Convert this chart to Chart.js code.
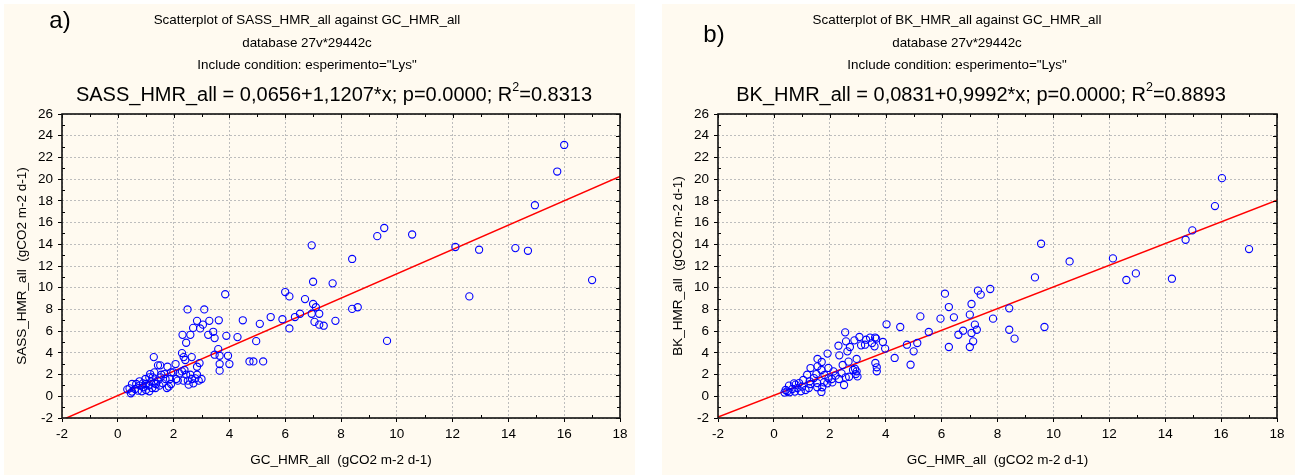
<!DOCTYPE html>
<html><head><meta charset="utf-8">
<script src="https://cdn.jsdelivr.net/npm/chart.js@4.4.1/dist/chart.umd.min.js"></script>
<style>
html,body{margin:0;padding:0;background:#fff;width:1295px;height:475px;overflow:hidden;}
.panel{position:absolute;background:#FFFAF0;}
#pa{left:4px;top:4px;width:631px;height:471px;}
#pb{left:662px;top:4px;width:633px;height:471px;}
canvas{display:block;}
</style></head><body>
<div class="panel" id="pa"><canvas id="ca" width="631" height="471"></canvas></div>
<div class="panel" id="pb"><canvas id="cb" width="633" height="471"></canvas></div>
<script>
// ---- data ----
const gcA = [3.85,2.5,3.1,2.84,3.28,3.62,4.48,5.48,5.09,2.7,2.95,3.05,2.32,2.6,3.24,3.42,3.47,3.89,4.29,4.96,2.45,3.6,3.47,3.65,3.95,2.3,2.36,2.42,2.65,2.93,2.84,3.65,4.0,3.65,4.72,4.86,5.21,1.29,1.44,1.52,1.78,2.07,
 0.42,0.51,0.51,0.62,0.72,0.78,0.78,0.86,0.92,0.99,1.01,1.01,1.10,1.13,1.16,1.19,1.23,1.25,1.31,1.31,1.35,1.43,1.49,1.53,1.61,1.67,1.71,1.76,1.83,1.87,1.91,1.99,2.09,2.15,2.21,2.3,2.35,2.39,2.45,2.51,2.54,2.6,2.66,2.71,2.78,2.84,2.9,3.0,1.56,1.37,0.66,1.13,0.9,1.91,0.34,0.47,
 5.9,6.0,6.15,6.15,6.35,6.53,6.71,6.95,7.0,7.0,6.95,7.05,7.1,7.22,7.22,7.38,7.7,7.8,8.4,8.4,8.6,9.3,9.55,9.65,10.55,12.1,12.6,12.95,14.25,14.7,14.95,15.75,16.0,17.0];
const sassHmrAll = [9.4,8.0,8.0,6.95,6.95,7.0,7.0,7.3,6.67,6.3,6.25,6.6,5.66,5.66,5.66,5.94,5.36,5.57,5.45,5.08,4.93,4.34,3.83,3.73,3.73,3.98,3.61,3.34,3.61,3.06,2.72,2.97,2.97,2.36,3.21,3.21,3.21,3.61,2.85,2.85,2.72,2.97,
 0.73,1.13,0.43,0.67,0.52,1.38,0.98,0.46,0.83,1.59,1.13,0.58,0.98,0.46,2.05,1.35,0.76,1.74,2.2,1.19,0.76,1.44,0.98,1.74,1.19,2.05,1.59,0.76,0.89,1.59,2.2,2.2,1.59,1.44,2.11,2.29,1.44,2.42,1.99,1.44,1.07,1.99,1.59,1.19,1.65,1.99,1.44,1.59,1.99,1.13,1.13,1.74,1.19,1.13,0.64,0.28,
 7.1,9.6,9.2,6.25,7.3,7.6,8.95,13.9,10.55,8.5,7.6,6.85,8.2,7.6,6.6,6.5,10.4,6.95,12.65,8.05,8.2,14.75,15.5,5.1,14.9,13.75,9.2,13.5,13.65,13.4,17.6,20.7,23.15,10.7];

const gcB = [6.12,6.26,6.26,5.96,6.44,6.6,6.77,7.01,7.07,7.07,7.01,7.13,7.19,7.3,5.54,5.24,5.13,5.0,4.89,4.76,4.52,4.32,4.03,3.98,3.9,3.66,3.63,3.68,3.68,3.6,3.51,3.44,3.26,3.12,3.3,3.06,2.88,2.72,2.58,2.55,2.63,2.34,2.31,2.96,2.67,2.46,2.96,1.95,1.92,1.71,1.56,1.56,
 2.13,2.21,2.33,2.42,2.57,2.69,2.83,2.93,2.99,2.9,2.51,2.09,1.95,1.81,1.70,1.52,1.43,1.28,1.19,1.05,0.9,0.72,0.54,0.42,0.38,0.56,0.75,0.96,1.13,1.25,1.31,1.55,1.55,1.70,1.79,1.73,1.91,2.07,1.01,0.84,0.66,0.48,0.78,1.31,3.62,
 7.4,7.26,7.74,7.84,8.42,8.42,8.61,9.34,9.56,9.68,10.58,12.13,12.61,12.95,14.24,14.73,14.97,15.78,16.03,17.0];
const bkHmrAll = [9.45,8.22,4.54,7.15,7.27,5.67,6.04,7.52,8.5,5.83,4.54,5.06,6.6,9.73,5.92,7.36,4.91,4.14,2.91,4.75,6.38,3.53,6.63,4.39,5.0,5.31,3.07,2.67,2.3,4.6,4.9,5.4,4.75,4.69,5.21,5.46,5.15,4.54,5.06,5.89,4.14,3.77,4.66,3.44,3.19,2.88,2.3,2.61,3.93,3.16,3.44,2.76,
 2.29,1.9,1.59,2.11,1.74,1.8,2.42,2.05,1.83,2.54,1.04,1.28,1.65,1.96,2.42,2.05,1.68,1.38,1.99,1.5,1.22,1.19,0.98,0.58,0.34,0.37,0.43,0.46,0.58,0.76,1.13,1.22,0.83,0.4,1.28,0.83,1.19,1.59,0.89,0.76,0.67,0.46,1.07,2.6,5.41,
 9.36,6.13,9.88,7.15,8.1,6.13,5.31,10.95,14.05,6.38,12.42,12.7,10.71,11.32,10.83,14.42,15.28,17.52,20.09,13.56];

const xTickLabels = [-2,0,2,4,6,8,10,12,14,16,18];
const yTickLabels = [-2,0,2,4,6,8,10,12,14,16,18,20,22,24,26];
const fitA = [0.0656, 1.1207];   // intercept, slope
const fitB = [0.0831, 0.9992];
const titleLine2 = 'database 27v*29442c';
const titleLine3 = 'Include condition: esperimento="Lys"';
const xAxisTitle = 'GC_HMR_all  (gCO2 m-2 d-1)';

const FONT = '"Liberation Sans", Arial, sans-serif';

const deco = {
  id: 'deco',
  afterDraw(chart, args, o) {
    const {ctx, chartArea: {left, right, top, bottom}, scales: {x, y}} = chart;
    ctx.save();
    ctx.strokeStyle = '#000'; ctx.lineWidth = 1;
    ctx.beginPath();
    for (let v = Math.ceil(x.min); v <= x.max; v++) {
      const px = Math.round(x.getPixelForValue(v)) + 0.5;
      const len = (v % 2 === 0) ? 4 : 3;
      ctx.moveTo(px, top); ctx.lineTo(px, top + len);
      if (v % 2 !== 0) { ctx.moveTo(px, bottom); ctx.lineTo(px, bottom - len); }
    }
    for (let v = Math.ceil(y.min); v <= y.max; v++) {
      const py = Math.round(y.getPixelForValue(v)) + 0.5;
      const len = (v % 2 === 0) ? 4 : 3;
      ctx.moveTo(right, py); ctx.lineTo(right - len, py);
      if (v % 2 !== 0) { ctx.moveTo(left, py); ctx.lineTo(left + len, py); }
    }
    ctx.stroke();
    ctx.lineWidth = 1.6; ctx.strokeStyle = '#111';
    ctx.strokeRect(left, top, right - left, bottom - top);

    // texts
    ctx.fillStyle = '#000';
    ctx.textBaseline = 'middle'; ctx.textAlign = 'center';
    ctx.font = '24px ' + FONT;
    ctx.fillText(o.label, o.labelX, o.labelY);
    ctx.font = '13.4px ' + FONT;
    o.lines.forEach((t, i) => ctx.fillText(t, o.cx, o.lineY[i]));
    // equation with superscript
    const big = '20px ' + FONT, small = '12.5px ' + FONT;
    const parts = [[o.eq1, big, 0], ['2', small, -7], [o.eq2, big, 0]];
    let w = 0;
    parts.forEach(p => { ctx.font = p[1]; w += ctx.measureText(p[0]).width; });
    let xx = o.ecx - w / 2;
    ctx.textAlign = 'left';
    parts.forEach(p => { ctx.font = p[1]; ctx.fillText(p[0], xx, o.eqY + p[2]); xx += ctx.measureText(p[0]).width; });
    ctx.restore();
  }
};

function makeChart(id, xs, ys, fit, yTitle, conf) {
  const pts = xs.map((v, i) => ({x: v, y: ys[i]}));
  const x0 = xTickLabels[0], x1 = xTickLabels[xTickLabels.length - 1];
  const line = [{x: x0, y: fit[0] + fit[1] * x0}, {x: x1, y: fit[0] + fit[1] * x1}];
  return new Chart(document.getElementById(id), {
    type: 'scatter',
    data: {datasets: [
      {type: 'line', data: line, borderColor: '#ff0000', borderWidth: 1.5, pointRadius: 0, fill: false, order: 2},
      {data: pts, pointRadius: 3.6, pointBorderWidth: 1.1, borderColor: '#0000ff', backgroundColor: 'rgba(0,0,0,0)', pointBackgroundColor: 'rgba(0,0,0,0)', order: 1}
    ]},
    options: {
      responsive: false, animation: false, devicePixelRatio: 1,
      layout: {padding: {left: 0, top: conf.top, right: conf.right, bottom: 0}},
      plugins: {legend: {display: false}, tooltip: {enabled: false}, deco: conf.deco},
      scales: {
        x: {type: 'linear', min: x0, max: x1,
            afterBuildTicks: s => { s.ticks = xTickLabels.map(v => ({value: v})); },
            afterFit: s => { s.height = conf.xh; },
            grid: {color: '#bdbdbd', lineWidth: 1, tickLength: 4, tickColor: '#000', drawTicks: true},
            border: {display: false, dash: [2, 2]},
            ticks: {color: '#000', padding: 4, maxRotation: 0, font: {family: FONT, size: 13.5}, callback: v => String(v)},
            title: {display: true, text: xAxisTitle, color: '#000', font: {family: FONT, size: 13.5}, padding: {top: 0, bottom: 7}}},
        y: {type: 'linear', min: yTickLabels[0], max: yTickLabels[yTickLabels.length - 1],
            afterBuildTicks: s => { s.ticks = yTickLabels.map(v => ({value: v})); },
            afterFit: s => { s.width = conf.yw; },
            grid: {color: '#bdbdbd', lineWidth: 1, tickLength: 4, tickColor: '#000', drawTicks: true},
            border: {display: false, dash: [2, 2]},
            ticks: {color: '#000', padding: 5, font: {family: FONT, size: 13.5}, callback: v => String(v)},
            title: {display: true, text: yTitle, color: '#000', font: {family: FONT, size: 13.5}, padding: {top: conf.ytp, bottom: 0}}}
      }
    },
    plugins: [deco]
  });
}

makeChart('ca', gcA, sassHmrAll, fitA, 'SASS_HMR_all  (gCO2 m-2 d-1)', {
  top: 110, right: 15, xh: 57, yw: 58, ytp: 10,
  deco: {label: 'a)', labelX: 56, labelY: 17, cx: 303, ecx: 330, lineY: [16, 39, 61], eqY: 91,
         lines: ['Scatterplot of SASS_HMR_all against GC_HMR_all', titleLine2, titleLine3],
         eq1: 'SASS_HMR_all = 0,0656+1,1207*x; p=0.0000; R', eq2: '=0.8313'}
});
makeChart('cb', gcB, bkHmrAll, fitB, 'BK_HMR_all  (gCO2 m-2 d-1)', {
  top: 110, right: 18, xh: 57, yw: 56, ytp: 8,
  deco: {label: 'b)', labelX: 52, labelY: 31, cx: 295, ecx: 319, lineY: [16, 39, 61], eqY: 91,
         lines: ['Scatterplot of BK_HMR_all against GC_HMR_all', titleLine2, titleLine3],
         eq1: 'BK_HMR_all = 0,0831+0,9992*x; p=0.0000; R', eq2: '=0.8893'}
});
</script>
</body></html>
